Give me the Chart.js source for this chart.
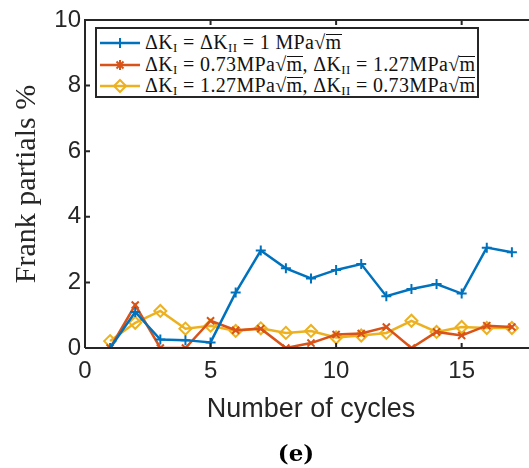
<!DOCTYPE html>
<html>
<head>
<meta charset="utf-8">
<script src="https://cdn.jsdelivr.net/npm/chart.js@4.4.1/dist/chart.umd.min.js"></script>
<style>
  html, body { margin: 0; padding: 0; background: #fff; overflow: hidden; }
  #wrap { position: relative; width: 529px; height: 468px; overflow: hidden; }
  #c { position: absolute; left: 0; top: 0; }
  #legend {
    position: absolute; left: 95px; top: 27px; width: 380px; height: 67px;
    border: 2px solid #262626; background: #fff;
    font-family: "Liberation Serif", serif; font-size: 20px; color: #111;
    letter-spacing: 0.35px;
  }
  .row { position: absolute; left: 0; height: 22px; white-space: nowrap; }
  .row svg { position: absolute; left: 3px; top: 0; }
  .row span.t { position: absolute; left: 48px; top: -1px; line-height: 22px; }
  sub { font-size: 13px; vertical-align: -3px; line-height: 0; }
  .sq { display: inline-block; line-height: 13px; border-top: 1px solid #111; padding-top: 1px; }
  #tag {
    position: absolute; left: 246px; top: 438px; width: 100px; text-align: center;
    font-family: "DejaVu Serif", serif; font-weight: bold; font-size: 23px; color: #000;
    line-height: 30px;
  }
</style>
</head>
<body>
<div id="wrap">
  <canvas id="c" width="545" height="468" style="width:545px;height:468px"></canvas>
  <div id="legend"></div>
  <div id="tag">(e)</div>
</div>
<script>
var cycles = [1, 2, 3, 4, 5, 6, 7, 8, 9, 10, 11, 12, 13, 14, 15, 16, 17];
var equalK = [0, 1.10, 0.26, 0.24, 0.17, 1.69, 2.97, 2.43, 2.12, 2.38, 2.56, 1.58, 1.80, 1.95, 1.66, 3.06, 2.92];
var lowKI = [0, 1.31, 0, 0, 0.83, 0.54, 0.59, 0, 0.15, 0.41, 0.44, 0.64, 0, 0.49, 0.38, 0.68, 0.64];
var highKI = [0.21, 0.77, 1.13, 0.59, 0.68, 0.52, 0.60, 0.46, 0.52, 0.32, 0.38, 0.46, 0.83, 0.49, 0.64, 0.61, 0.61];
var xTicks = [0, 5, 10, 15];
var yTicks = [0, 2, 4, 6, 8, 10];

var sqrtM = '&radic;<span class="sq">m</span>';
var seriesNames = [
  '&Delta;K<sub>I</sub> = &Delta;K<sub>II</sub> = 1 MPa' + sqrtM,
  '&Delta;K<sub>I</sub> = 0.73MPa' + sqrtM + ', &Delta;K<sub>II</sub> = 1.27MPa' + sqrtM,
  '&Delta;K<sub>I</sub> = 1.27MPa' + sqrtM + ', &Delta;K<sub>II</sub> = 0.73MPa' + sqrtM
];
var colors = ['#0072BD', '#D95319', '#EDB120'];
var markers = ['cross', 'crossRot', 'rectRot'];
var seriesData = [equalK, lowKI, highKI];

var axisColor = '#262626';

function pts(arr) {
  return cycles.map(function(c, i) { return {x: c, y: arr[i]}; });
}

var datasets = [];
for (var i = 0; i < seriesData.length; i++) {
  datasets.push({
    label: seriesNames[i],
    data: pts(seriesData[i]),
    borderColor: colors[i],
    backgroundColor: 'rgba(0,0,0,0)',
    pointStyle: markers[i],
    pointRadius: i == 2 ? 6 : 5,
    pointBorderWidth: 2,
    pointBorderColor: colors[i],
    borderWidth: 2.5,
    tension: 0
  });
}

// axes box + inward ticks like matlab
var boxTicks = {
  id: 'boxTicks',
  afterDraw: function(chart) {
    var ctx = chart.ctx, a = chart.chartArea;
    var xs = chart.scales.x, ys = chart.scales.y;
    ctx.save();
    ctx.strokeStyle = axisColor;
    ctx.lineWidth = 2;
    ctx.beginPath();
    ctx.moveTo(a.left, a.bottom); ctx.lineTo(a.left, a.top); ctx.lineTo(a.right, a.top);
    ctx.moveTo(a.left, a.bottom); ctx.lineTo(a.right, a.bottom);
    xTicks.forEach(function(v) {
      var px = xs.getPixelForValue(v);
      ctx.moveTo(px, a.bottom); ctx.lineTo(px, a.bottom - 5);
      ctx.moveTo(px, a.top); ctx.lineTo(px, a.top + 5);
    });
    yTicks.forEach(function(v) {
      var py = ys.getPixelForValue(v);
      ctx.moveTo(a.left, py); ctx.lineTo(a.left + 5, py);
    });
    ctx.stroke();
    ctx.restore();
  }
};

var ctx = document.getElementById('c');
var chart = new Chart(ctx, {
  type: 'line',
  data: { datasets: datasets },
  plugins: [boxTicks],
  options: {
    responsive: false,
    animation: false,
    layout: { padding: { left: 0, top: 20, right: 5, bottom: 0 } },
    plugins: {
      legend: { display: false },
      tooltip: { enabled: false }
    },
    scales: {
      x: {
        type: 'linear',
        min: 0, max: 18,
        afterFit: function(s) { s.height = 120; },
        afterBuildTicks: function(s) { s.ticks = xTicks.map(function(v) { return {value: v}; }); },
        grid: { display: false, drawTicks: false },
        border: { display: false },
        ticks: { color: '#262626', padding: 9, font: { family: 'Liberation Sans', size: 24 } },
        title: {
          display: true, text: 'Number of cycles', color: '#262626',
          font: { family: 'Liberation Sans', size: 27 },
          padding: { top: 0, bottom: 42 }
        }
      },
      y: {
        min: 0, max: 10,
        afterFit: function(s) { s.width = 85; },
        afterBuildTicks: function(s) { s.ticks = yTicks.map(function(v) { return {value: v}; }); },
        grid: { display: false, drawTicks: false },
        border: { display: false },
        ticks: { color: '#262626', padding: 4, font: { family: 'Liberation Sans', size: 24 } },
        title: {
          display: true, text: 'Frank partials %', color: '#262626',
          font: { family: 'Liberation Serif', size: 30 },
          padding: { top: 9, bottom: 0 }
        }
      }
    }
  }
});

// legend drawn as html so subscripts and roots stay text
var leg = document.getElementById('legend');
for (var k = 0; k < datasets.length; k++) {
  var row = document.createElement('div');
  row.className = 'row';
  row.style.top = (3 + k * 21.5) + 'px';
  var c = colors[k], m;
  if (k == 0) m = '<path d="M20 6 V16 M15 11 H25" stroke="' + c + '" stroke-width="2"/>';
  else if (k == 1) m = '<path d="M16.5 7.5 L23.5 14.5 M23.5 7.5 L16.5 14.5 M20 6 V16" stroke="' + c + '" stroke-width="2"/>';
  else m = '<path d="M20 5 L26 11 L20 17 L14 11 Z" stroke="' + c + '" stroke-width="2" fill="none"/>';
  row.innerHTML = '<svg width="42" height="22"><line x1="0" y1="11" x2="40" y2="11" stroke="' + c + '" stroke-width="2.5"/>' + m + '</svg>' +
    '<span class="t">' + seriesNames[k] + '</span>';
  leg.appendChild(row);
}
</script>
</body>
</html>
